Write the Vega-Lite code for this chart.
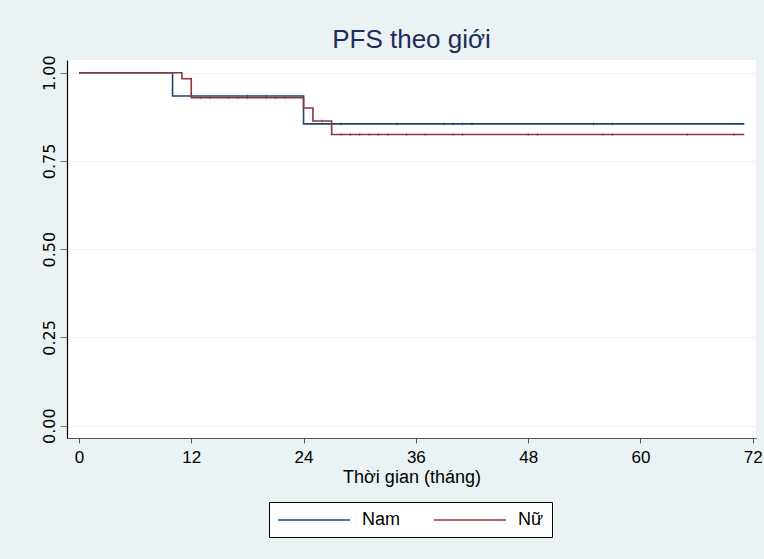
{
  "$schema": "https://vega.github.io/schema/vega-lite/v6.json",
  "width": 689,
  "height": 378,
  "autosize": {"type": "none"},
  "padding": {"left": 67, "top": 60, "right": 8, "bottom": 121},
  "background": "#eaf2f3",
  "title": {
    "text": "PFS theo giới",
    "font": "Liberation Sans",
    "fontSize": 26,
    "fontWeight": "normal",
    "color": "#1e2d5a",
    "anchor": "middle",
    "frame": "group",
    "baseline": "alphabetic",
    "offset": 10,
    "dy": 29
  },
  "config": {
    "view": {"fill": "white", "stroke": null},
    "axis": {"grid": false}
  },
  "datasets": {
    "curve": [
      {"t": 0, "s": 1.0, "g": "Nam"},
      {"t": 10, "s": 0.934, "g": "Nam"},
      {"t": 24, "s": 0.855, "g": "Nam"},
      {"t": 71.1, "s": 0.855, "g": "Nam"},
      {"t": 0, "s": 1.0, "g": "Nữ"},
      {"t": 11, "s": 0.983, "g": "Nữ"},
      {"t": 12, "s": 0.929, "g": "Nữ"},
      {"t": 24, "s": 0.9, "g": "Nữ"},
      {"t": 25, "s": 0.863, "g": "Nữ"},
      {"t": 27, "s": 0.825, "g": "Nữ"},
      {"t": 71.1, "s": 0.825, "g": "Nữ"}
    ],
    "censor": [
      {"t": 18, "s": 0.934, "g": "Nam"},
      {"t": 20, "s": 0.934, "g": "Nam"},
      {"t": 28, "s": 0.855, "g": "Nam"},
      {"t": 34, "s": 0.855, "g": "Nam"},
      {"t": 39, "s": 0.855, "g": "Nam"},
      {"t": 40, "s": 0.855, "g": "Nam"},
      {"t": 41, "s": 0.855, "g": "Nam"},
      {"t": 42, "s": 0.855, "g": "Nam"},
      {"t": 55, "s": 0.855, "g": "Nam"},
      {"t": 57, "s": 0.855, "g": "Nam"},
      {"t": 13, "s": 0.929, "g": "Nữ"},
      {"t": 14, "s": 0.929, "g": "Nữ"},
      {"t": 16, "s": 0.929, "g": "Nữ"},
      {"t": 17, "s": 0.929, "g": "Nữ"},
      {"t": 18, "s": 0.929, "g": "Nữ"},
      {"t": 20, "s": 0.929, "g": "Nữ"},
      {"t": 21, "s": 0.929, "g": "Nữ"},
      {"t": 22, "s": 0.929, "g": "Nữ"},
      {"t": 26, "s": 0.863, "g": "Nữ"},
      {"t": 28, "s": 0.825, "g": "Nữ"},
      {"t": 29, "s": 0.825, "g": "Nữ"},
      {"t": 30, "s": 0.825, "g": "Nữ"},
      {"t": 31, "s": 0.825, "g": "Nữ"},
      {"t": 32, "s": 0.825, "g": "Nữ"},
      {"t": 33, "s": 0.825, "g": "Nữ"},
      {"t": 35, "s": 0.825, "g": "Nữ"},
      {"t": 37, "s": 0.825, "g": "Nữ"},
      {"t": 40, "s": 0.825, "g": "Nữ"},
      {"t": 41, "s": 0.825, "g": "Nữ"},
      {"t": 48, "s": 0.825, "g": "Nữ"},
      {"t": 49, "s": 0.825, "g": "Nữ"},
      {"t": 56, "s": 0.825, "g": "Nữ"},
      {"t": 57, "s": 0.825, "g": "Nữ"},
      {"t": 65, "s": 0.825, "g": "Nữ"},
      {"t": 70, "s": 0.825, "g": "Nữ"}
    ]
  },
  "encoding": {
    "x": {
      "field": "t",
      "type": "quantitative",
      "scale": {"domain": [-1.28, 72.35], "nice": false, "zero": false},
      "axis": {
        "title": "Thời gian (tháng)",
        "values": [0, 12, 24, 36, 48, 60, 72],
        "format": "d",
        "domainColor": "#555555",
        "domainWidth": 1.2,
        "tickColor": "#555555",
        "tickSize": 5,
        "labelFont": "Liberation Sans",
        "labelFontSize": 17,
        "labelColor": "#000000",
        "labelPadding": 6,
        "labelFlush": false,
        "titleFont": "Liberation Sans",
        "titleFontSize": 18,
        "titleFontWeight": "normal",
        "titleColor": "#000000",
        "titlePadding": 3
      }
    },
    "y": {
      "field": "s",
      "type": "quantitative",
      "scale": {"domain": [-0.035, 1.036], "nice": false, "zero": false},
      "axis": {
        "title": null,
        "values": [0, 0.25, 0.5, 0.75, 1],
        "format": ".2f",
        "grid": true,
        "gridColor": "#eaf2f3",
        "gridWidth": 1.2,
        "domainColor": "#000000",
        "domainWidth": 1.2,
        "tickColor": "#777777",
        "tickSize": 7,
        "labelFont": "DejaVu Sans",
        "labelFontSize": 16,
        "labelColor": "#000000",
        "labelAngle": 270,
        "labelAlign": "center",
        "labelBaseline": "bottom",
        "labelPadding": 3,
        "labelFlush": false
      }
    }
  },
  "layer": [
    {
      "data": {"name": "curve"},
      "mark": {"type": "line", "interpolate": "step-after", "strokeWidth": 1.6},
      "encoding": {
        "color": {
          "field": "g",
          "type": "nominal",
          "scale": {"domain": ["Nam", "Nữ"], "range": ["#1a476f", "#90353b"]},
          "legend": {
            "title": null,
            "orient": "none",
            "direction": "horizontal",
            "legendX": 202,
            "legendY": 442,
            "fillColor": "white",
            "strokeColor": "#000000",
            "padding": 8,
            "symbolType": "M-1,0H7",
            "symbolSize": 324,
            "symbolStrokeWidth": 1.5,
            "labelFont": "Liberation Sans",
            "labelFontSize": 18,
            "labelColor": "#000000",
            "labelOffset": 65,
            "columnPadding": 30
          }
        }
      }
    },
    {
      "data": {"name": "censor"},
      "mark": {"type": "tick", "orient": "vertical", "size": 3, "thickness": 1, "opacity": 0.6},
      "encoding": {
        "fill": {
          "field": "g",
          "type": "nominal",
          "scale": {"domain": ["Nam", "Nữ"], "range": ["#1a476f", "#90353b"]},
          "legend": null
        }
      }
    }
  ]
}
